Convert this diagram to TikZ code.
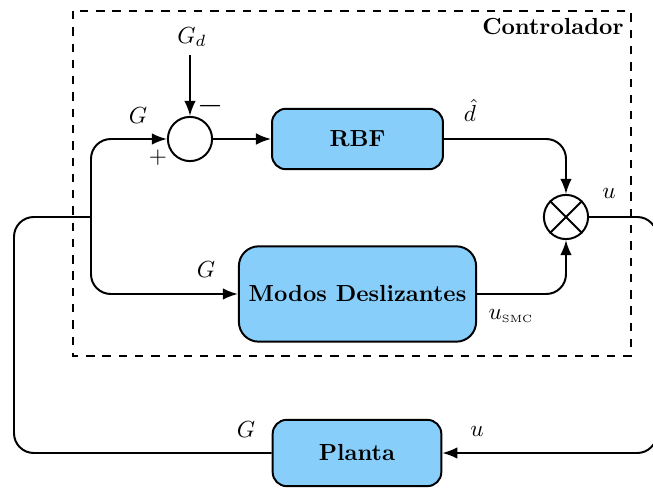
\documentclass[tikz,border=0pt]{standalone}
\usepackage{amsmath}
\usetikzlibrary{positioning, arrows.meta, calc}
\definecolor{boxblue}{RGB}{135,206,250}
\tikzset{
  block/.style={draw, line width=0.85pt, fill=boxblue, rounded corners=6pt, font=\bfseries},
  sumnode/.style={draw, line width=0.85pt, circle, minimum size=19pt, inner sep=0pt},
  link/.style={line width=0.85pt, rounded corners=8.5pt},
  arr/.style={link, -{Latex[length=6.5pt,width=5pt]}},
}

\begin{document}
\begin{tikzpicture}[x=0.43pt, y=-0.43pt]
\useasboundingbox (0,0) rectangle (653,489);

% Controller frame
\draw[line width=0.85pt, dash pattern=on 3.6pt off 3.4pt] (73,11) rectangle (631,356);
\node[anchor=north east, font=\bfseries, inner sep=0pt] (ctrl) at (624,18) {Controlador};

% Blocks
\node[block, minimum width=73.5pt, minimum height=26pt] (rbf) at (357.5,139) {RBF};
\node[block, rounded corners=8.5pt, minimum width=102pt, minimum height=41pt] (smc) at (357.5,294) {Modos Deslizantes};
\node[block, minimum width=72.5pt, minimum height=28.5pt] (planta) at (357,453) {Planta};

% Summing junction and multiplier
\node[sumnode] (sum) at (190,139) {};
\node[sumnode] (mult) at (566,217) {};
\draw[line width=0.85pt] (mult.north west) -- (mult.south east) (mult.north east) -- (mult.south west);

% Reference input
\node (gd) at (192,37) {$G_d$};
\draw[arr] (sum.north |- gd.south) -- (sum.north);
\node[font=\Large] (minus) at (211,106) {$-$};
\node (plus) at (158,158) {$+$};

% Split of the measured output
\coordinate (split) at (91,217);
\coordinate (fbleft) at (14,217);
\coordinate (fbright) at (657,217);
\draw[arr] (split) |- (sum.west);
\draw[arr] (split) |- (smc.west);
\draw[arr] (sum.east) -- (rbf.west);
\draw[arr] (rbf.east) -| (mult.north);
\draw[arr] (smc.east) -| (mult.south);

% Feedback loops
\draw[arr] (mult.east) -- (fbright) |- (planta.east);
\draw[link] (planta.west) -| (fbleft) -- (split);

% Signal labels
\node (lblg1) at (138,116) {$G$};
\node (lblg2) at (206,270) {$G$};
\node (lblg3) at (246,430) {$G$};
\node (lbld) at (470,110) {$\hat{d}$};
\node (lblu1) at (609,193) {$u$};
\node (lblu2) at (477,431) {$u$};
\node (lblsmc) at (511,316) {$u_{\text{\fontsize{4.5pt}{5pt}\selectfont SMC}}$};
\end{tikzpicture}
\end{document}
